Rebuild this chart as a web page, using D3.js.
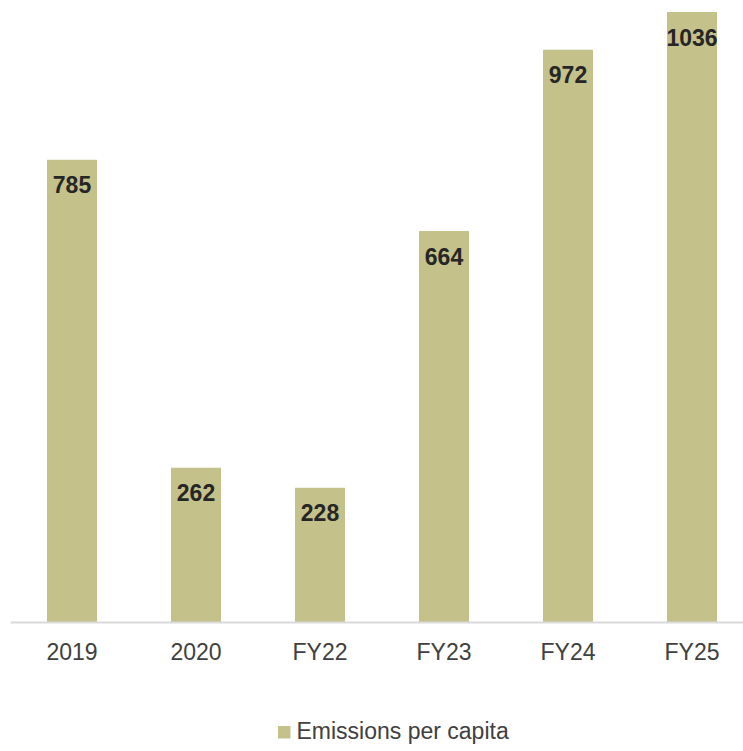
<!DOCTYPE html>
<html>
<head>
<meta charset="utf-8">
<script src="https://cdn.jsdelivr.net/npm/d3@7"></script>
<style>
  html, body { margin: 0; padding: 0; background: #fff; }
  svg { display: block; font-family: "Liberation Sans", Arial, Helvetica, sans-serif; }
</style>
</head>
<body>
<svg id="chart" width="743" height="751"></svg>
<script>
// Emissions per capita by period
const categories = ["2019", "2020", "FY22", "FY23", "FY24", "FY25"];
const values = [785, 262, 228, 664, 972, 1036];
const seriesName = "Emissions per capita";

const W = 743, H = 751;
const barColor = "#c4c28a";

const svg = d3.select("#chart");

const x = d3.scaleBand()
  .domain(categories)
  .range([10, 754])
  .paddingInner(0.597)
  .paddingOuter(0.2985);

const y = d3.scaleLinear()
  .domain([0, d3.max(values)])
  .range([622, 12]);

const data = categories.map((c, i) => ({ cat: c, val: values[i] }));

// bars
svg.append("g")
  .selectAll("rect")
  .data(data)
  .join("rect")
  .attr("x", d => x(d.cat))
  .attr("y", d => y(d.val))
  .attr("width", x.bandwidth())
  .attr("height", d => y(0) - y(d.val))
  .attr("fill", barColor);

// value labels inside the top of each bar
svg.append("g")
  .selectAll("text")
  .data(data)
  .join("text")
  .attr("x", d => x(d.cat) + x.bandwidth() / 2)
  .attr("y", d => y(d.val) + 33.5)
  .attr("text-anchor", "middle")
  .attr("font-size", 23)
  .attr("font-weight", "bold")
  .attr("fill", "#262626")
  .text(d => d.val);

// category axis
const axis = svg.append("g")
  .attr("transform", `translate(0,${y(0)})`)
  .call(d3.axisBottom(x).tickSize(0).tickSizeOuter(0));

axis.select(".domain")
  .attr("stroke", "#d9d9d9")
  .attr("stroke-width", 2);

axis.selectAll(".tick text")
  .attr("y", 38)
  .attr("dy", 0)
  .attr("font-size", 23)
  .attr("font-family", "\"Liberation Sans\", Arial, sans-serif")
  .attr("fill", "#404040");

// legend
const legend = svg.append("g").attr("transform", "translate(278,726)");
legend.append("rect")
  .attr("width", 12.5)
  .attr("height", 12.5)
  .attr("fill", barColor);
legend.append("text")
  .attr("x", 18.5)
  .attr("y", 12.5)
  .attr("font-size", 23)
  .attr("fill", "#404040")
  .text(seriesName);
</script>
</body>
</html>
